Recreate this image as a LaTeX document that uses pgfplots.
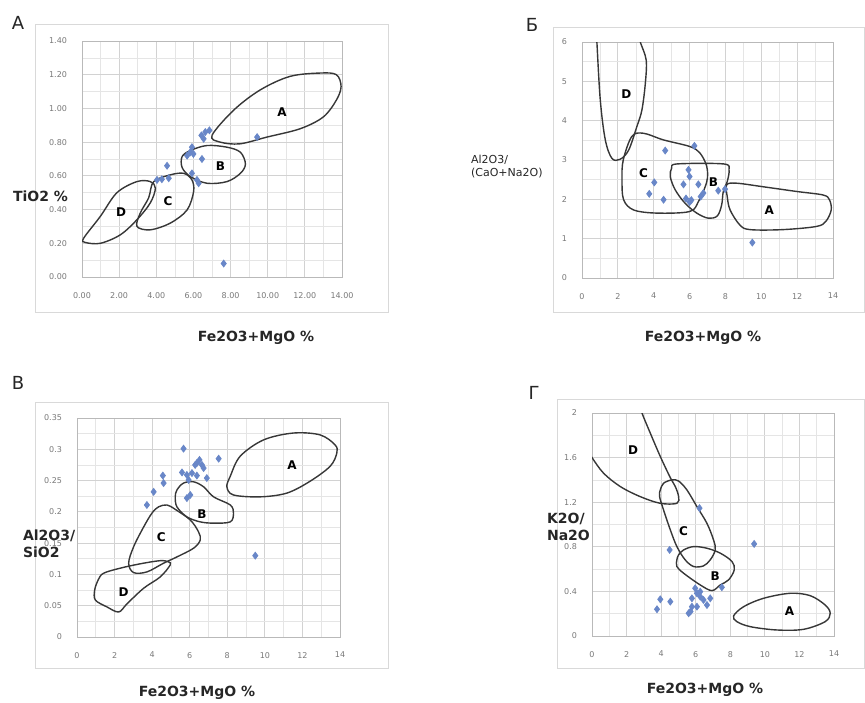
\documentclass[border=0pt]{standalone}
\usepackage{pgfplots}
\pgfplotsset{compat=1.18}
\usepackage{fontspec}
\setmainfont{DejaVu Sans}
\definecolor{ptblue}{RGB}{105,135,200}
\definecolor{fieldline}{RGB}{55,55,55}
\definecolor{tickgray}{RGB}{120,120,120}
\tikzset{flab/.style={font=\bfseries\fontsize{6}{6}\selectfont, text=black}}
\pgfplotsset{
  panel/.style={
    scale only axis, anchor=south west,
    xmin=0, xmax=14,
    xtick={0,2,...,14},
    minor x tick num=1, minor y tick num=1,
    grid=both,
    major grid style={gray!35, line width=0.4pt},
    minor grid style={gray!20, line width=0.3pt},
    axis line style={gray!55, line width=0.4pt},
    tick style={draw=none},
    tick label style={font=\fontsize{4}{4}\selectfont, text=tickgray},
    yticklabel style={xshift=-4pt},
    xticklabel style={yshift=-4pt},
    /pgf/number format/assume math mode=true,
  },
  pts/.style={only marks, mark=diamond*, mark size=1.7pt, color=ptblue, mark options={fill=ptblue, draw=ptblue}},
  field/.style={smooth cycle, tension=0.55, color=fieldline, line width=0.7pt, mark=none},
  openfield/.style={smooth, tension=0.55, color=fieldline, line width=0.7pt, mark=none},
}
\begin{document}
\begin{tikzpicture}
\path[use as bounding box] (0,0) rectangle (432.5pt,351pt);
% chart frames
\draw[gray!30, line width=0.4pt] (17.5pt,195pt) rectangle (194pt,339pt);
\draw[gray!30, line width=0.4pt] (276.5pt,195pt) rectangle (432pt,337.5pt);
\draw[gray!30, line width=0.4pt] (17.5pt,17pt) rectangle (194pt,150pt);
\draw[gray!30, line width=0.4pt] (278.5pt,17pt) rectangle (432pt,151.5pt);

% ---------------- Panel A ----------------
\begin{axis}[panel, at={(41pt,212.5pt)}, width=130pt, height=118pt,
  ymin=0, ymax=1.4, ytick={0,0.2,...,1.4},
  xticklabels={0.00,2.00,4.00,6.00,8.00,10.00,12.00,14.00},
  yticklabels={0.00,0.20,0.40,0.60,0.80,1.00,1.20,1.40}]
\addplot[field] coordinates {(7.0,0.84) (8.17,0.99) (9.6,1.11) (11.2,1.19) (12.84,1.21) (13.7,1.20) (13.95,1.13) (13.7,1.05) (13.0,0.95) (11.76,0.88) (9.96,0.83) (8.5,0.79) (7.45,0.80)};
\addplot[field] coordinates {(5.39,0.714) (5.83,0.75) (6.73,0.78) (7.81,0.77) (8.53,0.74) (8.8,0.67) (8.53,0.615) (7.81,0.566) (6.73,0.556) (5.83,0.596) (5.39,0.65)};
\addplot[field] coordinates {(3.86,0.566) (4.76,0.606) (5.48,0.615) (5.92,0.576) (6.01,0.507) (5.66,0.398) (4.76,0.32) (3.68,0.28) (2.96,0.30) (3.14,0.38) (3.59,0.47)};
\addplot[field] coordinates {(0.09,0.23) (0.99,0.36) (1.88,0.50) (2.96,0.566) (3.68,0.566) (3.95,0.527) (3.68,0.44) (2.96,0.34) (2.06,0.25) (0.99,0.20) (0.18,0.205)};
\addplot[pts] coordinates {(7.63,0.08) (9.43,0.83) (6.43,0.84) (6.64,0.86) (6.86,0.87) (6.55,0.82) (5.92,0.77) (5.83,0.74) (5.66,0.72) (6.0,0.73) (6.46,0.70) (4.58,0.66) (5.92,0.615) (6.19,0.576) (6.28,0.556) (4.04,0.576) (4.67,0.586) (4.30,0.58)};
\node[flab] at (axis cs:10.77,0.976) {A};
\node[flab] at (axis cs:7.45,0.66) {B};
\node[flab] at (axis cs:4.63,0.448) {C};
\node[flab] at (axis cs:2.1,0.383) {D};
\end{axis}

% ---------------- Panel B (Cyrillic Б) ----------------
\begin{axis}[panel, at={(291pt,212pt)}, width=125.5pt, height=118pt,
  ymin=0, ymax=6, ytick={0,1,...,6},
  xticklabels={0,2,4,6,8,10,12,14},
  yticklabels={0,1,2,3,4,5,6}]
\addplot[openfield] coordinates {(0.8,6.3) (0.83,6.0) (1.02,4.52) (1.3,3.51) (1.67,3.04) (2.13,3.02) (2.6,3.25) (3.06,3.85) (3.34,4.27) (3.53,4.94) (3.58,5.54) (3.25,6.0) (3.1,6.3)};
\addplot[field] coordinates {(2.78,3.6) (3.43,3.68) (4.55,3.51) (6.03,3.34) (6.59,3.17) (6.96,2.83) (6.96,2.45) (6.5,1.95) (6.0,1.69) (4.17,1.65) (2.88,1.73) (2.32,1.99) (2.23,2.5) (2.3,3.0)};
\addplot[field] coordinates {(5.0,2.79) (5.3,2.9) (7.9,2.9) (8.2,2.75) (8.1,2.45) (7.88,2.2) (7.79,1.86) (7.55,1.58) (7.05,1.52) (6.4,1.65) (5.75,1.9) (5.2,2.24) (4.92,2.58)};
\addplot[field] coordinates {(8.07,2.37) (8.63,2.41) (10.1,2.32) (11.97,2.2) (13.45,2.11) (13.8,1.99) (13.9,1.73) (13.6,1.44) (13.07,1.31) (11.2,1.23) (9.37,1.23) (8.8,1.35) (8.26,1.73) (8.1,2.07)};
\addplot[pts] coordinates {(9.5,0.9) (4.64,3.24) (6.27,3.36) (4.03,2.43) (3.75,2.14) (4.55,1.99) (5.94,2.75) (6.0,2.58) (5.66,2.38) (6.49,2.38) (5.8,2.02) (6.1,1.98) (6.0,1.93) (6.77,2.16) (7.6,2.22) (7.98,2.26) (6.62,2.07)};
\node[flab] at (axis cs:2.47,4.67) {D};
\node[flab] at (axis cs:3.43,2.66) {C};
\node[flab] at (axis cs:7.33,2.45) {B};
\node[flab] at (axis cs:10.45,1.73) {A};
\end{axis}

% ---------------- Panel V (Cyrillic В) ----------------
\begin{axis}[panel, at={(38.5pt,32.5pt)}, width=131.5pt, height=109.5pt,
  ymin=0, ymax=0.35, ytick={0,0.05,0.1,0.15,0.2,0.25,0.3,0.35},
  xticklabels={0,2,4,6,8,10,12,14},
  yticklabels={0,0.05,0.1,0.15,0.2,0.25,0.3,0.35}]
\addplot[field] coordinates {(7.98,0.24) (8.16,0.257) (8.69,0.289) (9.93,0.315) (11.52,0.326) (12.94,0.323) (13.74,0.307) (13.83,0.294) (13.48,0.273) (12.41,0.249) (11.17,0.23) (9.75,0.224) (8.33,0.227)};
\addplot[field] coordinates {(5.32,0.235) (5.67,0.246) (6.21,0.248) (6.74,0.24) (7.27,0.224) (8.16,0.211) (8.33,0.198) (8.16,0.184) (7.27,0.182) (6.56,0.184) (5.85,0.192) (5.32,0.208) (5.23,0.224)};
\addplot[field] coordinates {(4.34,0.208) (4.79,0.211) (5.23,0.204) (6.03,0.187) (6.47,0.168) (6.56,0.155) (6.21,0.142) (5.32,0.128) (4.61,0.118) (3.72,0.104) (3.01,0.103) (2.75,0.118) (3.01,0.144) (3.55,0.176) (3.99,0.198)};
\addplot[field] coordinates {(1.42,0.102) (2.3,0.11) (3.37,0.117) (4.43,0.122) (4.88,0.12) (4.96,0.115) (4.43,0.096) (3.55,0.078) (2.66,0.053) (2.22,0.04) (1.6,0.048) (0.98,0.059) (0.94,0.075) (1.14,0.092)};
\addplot[pts] coordinates {(5.67,0.301) (7.54,0.285) (6.38,0.278) (6.52,0.283) (6.65,0.275) (6.29,0.275) (6.74,0.27) (5.59,0.263) (5.85,0.259) (6.12,0.262) (6.38,0.258) (6.91,0.254) (5.94,0.251) (4.57,0.258) (4.61,0.246) (4.08,0.232) (3.72,0.211) (6.03,0.227) (5.85,0.222) (9.49,0.13)};
\node[flab] at (axis cs:11.44,0.274) {A};
\node[flab] at (axis cs:6.65,0.197) {B};
\node[flab] at (axis cs:4.49,0.159) {C};
\node[flab] at (axis cs:2.48,0.072) {D};
\end{axis}

% ---------------- Panel G (Cyrillic Г) ----------------
\begin{axis}[panel, at={(296pt,33pt)}, width=121pt, height=111.5pt,
  ymin=0, ymax=2, ytick={0,0.4,0.8,1.2,1.6,2},
  xticklabels={0,2,4,6,8,10,12,14},
  yticklabels={0,0.4,0.8,1.2,1.6,2}]
\addplot[openfield] coordinates {(-0.3,1.68) (0,1.6) (0.67,1.46) (1.64,1.34) (2.79,1.25) (3.95,1.19) (4.91,1.19) (5.01,1.25) (4.82,1.34) (4.53,1.42) (3.95,1.61) (3.37,1.82) (2.89,2.0) (2.7,2.1)};
\addplot[field] coordinates {(3.95,1.31) (4.14,1.37) (4.62,1.4) (5.01,1.39) (5.49,1.31) (6.07,1.16) (6.65,1.01) (7.03,0.862) (7.13,0.772) (6.84,0.683) (6.45,0.629) (5.88,0.623) (5.39,0.683) (4.91,0.802) (4.53,0.952) (4.14,1.13) (3.91,1.25)};
\addplot[field] coordinates {(5.01,0.728) (5.3,0.772) (5.88,0.802) (6.65,0.787) (7.42,0.743) (8.1,0.668) (8.23,0.593) (7.9,0.503) (7.42,0.458) (6.94,0.407) (6.26,0.458) (5.3,0.563) (4.91,0.623) (4.91,0.683)};
\addplot[field] coordinates {(8.19,0.18) (8.77,0.263) (9.92,0.338) (11.46,0.383) (12.62,0.362) (13.49,0.278) (13.78,0.204) (13.49,0.129) (12.24,0.06) (10.69,0.054) (9.15,0.084) (8.38,0.129)};
\addplot[pts] coordinates {(6.22,1.147) (9.38,0.826) (4.49,0.772) (3.95,0.329) (4.53,0.308) (3.76,0.24) (5.59,0.204) (5.97,0.428) (6.07,0.383) (5.78,0.338) (6.26,0.353) (6.45,0.323) (6.84,0.338) (6.65,0.278) (6.07,0.263) (5.78,0.263) (6.26,0.398) (7.51,0.437) (5.7,0.22)};
\node[flab] at (axis cs:2.37,1.665) {D};
\node[flab] at (axis cs:5.3,0.943) {C};
\node[flab] at (axis cs:7.13,0.539) {B};
\node[flab] at (axis cs:11.43,0.225) {A};
\end{axis}

% panel letters
\node[font=\fontsize{9}{9}\selectfont, text=black!85] at (9pt,339.5pt) {А};
\node[font=\fontsize{9}{9}\selectfont, text=black!85] at (266pt,338.5pt) {Б};
\node[font=\fontsize{9}{9}\selectfont, text=black!85] at (9pt,159.5pt) {В};
\node[font=\fontsize{9}{9}\selectfont, text=black!85] at (267pt,154.5pt) {Г};

% x titles
\node[font=\bfseries\fontsize{7}{7}\selectfont, text=black!85] at (128pt,182pt) {Fe2O3+MgO \%};
\node[font=\bfseries\fontsize{7}{7}\selectfont, text=black!85] at (351.5pt,182pt) {Fe2O3+MgO \%};
\node[font=\bfseries\fontsize{7}{7}\selectfont, text=black!85] at (98.5pt,4.5pt) {Fe2O3+MgO \%};
\node[font=\bfseries\fontsize{7}{7}\selectfont, text=black!85] at (352.5pt,6pt) {Fe2O3+MgO \%};

% y titles
\node[anchor=west, font=\bfseries\fontsize{7}{7}\selectfont, text=black!85] at (3pt,253pt) {TiO2 \%};
\node[anchor=west, align=left, font=\fontsize{5.5}{6.5}\selectfont, text=black!85] at (232pt,267.5pt) {Al2O3/\\(CaO+Na2O)};
\node[anchor=west, align=left, font=\bfseries\fontsize{7}{8.5}\selectfont, text=black!85] at (8pt,79pt) {Al2O3/\\SiO2};
\node[anchor=west, align=left, font=\bfseries\fontsize{7}{8.5}\selectfont, text=black!85] at (270pt,87.5pt) {K2O/\\Na2O};
\end{tikzpicture}
\end{document}
